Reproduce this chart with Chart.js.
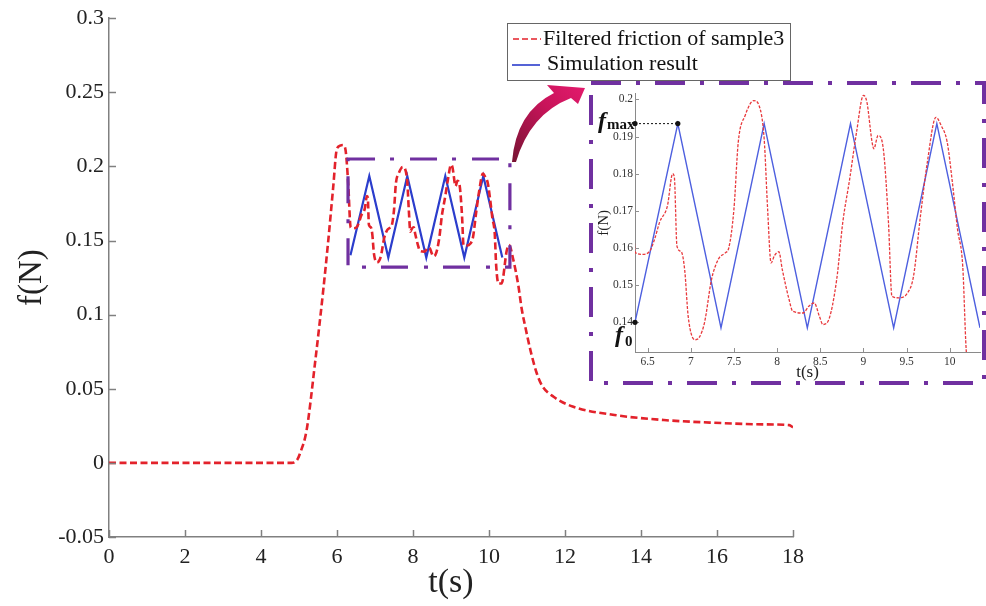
<!DOCTYPE html>
<html><head><meta charset="utf-8">
<script src="https://cdn.jsdelivr.net/npm/chart.js@4/dist/chart.umd.min.js"></script>
<style>
html,body{margin:0;padding:0;background:#fff;}
#wrap{position:relative;width:986px;height:606px;overflow:hidden;}
#main{position:absolute;left:0;top:0;}
#inset{position:absolute;left:590px;top:85px;}
</style></head><body>
<div id="wrap">
<canvas id="main" width="986" height="606"></canvas>
<canvas id="inset" width="396" height="300"></canvas>
</div>
<script>
// ---- data ----
const frictionT = [
  0, 4.8, 4.95, 5.05, 5.2, 5.42, 5.64, 5.77, 5.9, 5.99, 6.08, 6.15, 6.21, 6.3, 6.34,
  6.36, 6.44, 6.52, 6.58, 6.64, 6.73, 6.79, 6.81, 6.84, 6.89, 6.93, 6.97, 7.05, 7.1, 7.16, 7.24, 7.32, 7.4, 7.44,
  7.5, 7.55, 7.63, 7.73, 7.79, 7.85, 7.89, 7.93, 7.97, 8.02, 8.06, 8.14, 8.18, 8.3, 8.37, 8.43, 8.49, 8.53, 8.59,
  8.69, 8.76, 8.84, 8.92, 9.0, 9.04, 9.1, 9.12, 9.17, 9.23, 9.29, 9.33, 9.41, 9.51, 9.58, 9.66, 9.74, 9.84, 9.9, 9.97,
  10.03, 10.09, 10.15, 10.19, 10.25, 10.33, 10.47, 10.53, 10.64, 10.77, 10.86, 10.97, 11.1, 11.25, 11.4, 11.7, 12.2, 13.3, 14.6, 15.9, 17.2, 17.9, 18.0
];
const frictionF = [
  0, 0, 0.002, 0.008, 0.022, 0.067, 0.117, 0.15, 0.186, 0.211, 0.214, 0.2145, 0.213, 0.186, 0.164,
  0.1587, 0.1583, 0.159, 0.1623, 0.167, 0.1714, 0.18, 0.179, 0.1605, 0.159, 0.154, 0.1416, 0.1353, 0.136, 0.14, 0.1515, 0.157, 0.1587, 0.16,
  0.1705, 0.1885, 0.1957, 0.1997, 0.1984, 0.1894, 0.1705, 0.156, 0.158, 0.159, 0.1542, 0.146, 0.143, 0.1425, 0.1444, 0.1452, 0.1416, 0.1394, 0.1403,
  0.1515, 0.1668, 0.1785, 0.1912, 0.2011, 0.1993, 0.1885, 0.1867, 0.1903, 0.1867, 0.1668, 0.147, 0.1466, 0.1479, 0.1524, 0.1686, 0.1831, 0.1952, 0.193, 0.1885,
  0.1777, 0.165, 0.1551, 0.1326, 0.121, 0.121, 0.1436, 0.147, 0.137, 0.12, 0.104, 0.09, 0.075, 0.061, 0.052, 0.0446, 0.038, 0.0323, 0.0289, 0.0271, 0.026, 0.0255, 0.024
];
const simT = [6.354, 6.85, 7.35, 7.85, 8.35, 8.85, 9.35, 9.85, 10.35];
const simF = [0.14, 0.1935, 0.1385, 0.1935, 0.1385, 0.1935, 0.1385, 0.1935, 0.1385];

const seriesNames = ['Filtered friction of sample3', 'Simulation result'];
const mainXTicks = ['0','2','4','6','8','10','12','14','16','18'];
const mainYTicks = ['-0.05','0','0.05','0.1','0.15','0.2','0.25','0.3'];
const insetXTicks = ['6.5','7','7.5','8','8.5','9','9.5','10'];
const insetYTicks = ['0.14','0.15','0.16','0.17','0.18','0.19','0.2'];
const axisTitles = {x: 't(s)', y: 'f(N)'};
// zoom window (data units) marked on the main chart
const zoomWin = {t0: 6.29, t1: 10.55, f0: 0.132, f1: 0.205};
const fmaxT = 6.85, fmaxF = 0.1935, f0T = 6.354, f0F = 0.14;

const SERIF = "'Liberation Serif','Times New Roman',serif";
const RED = '#e3222b', BLUE = '#2b3dcc', PURPLE = '#7030a0';

const pts = (ts, fs) => ts.map((t, i) => ({x: t, y: fs[i]}));
const labelFor = (arr) => (v) => {
  const hit = arr.find(s => Math.abs(parseFloat(s) - v) < 1e-6);
  return hit === undefined ? '' : hit;
};

function inwardTicks(chart, len, color, width) {
  const ctx = chart.ctx, a = chart.chartArea, sx = chart.scales.x, sy = chart.scales.y;
  ctx.save();
  ctx.strokeStyle = color; ctx.lineWidth = width; ctx.setLineDash([]);
  sx.ticks.forEach(t => {
    const px = Math.round(sx.getPixelForValue(t.value)) + 0.5;
    ctx.beginPath(); ctx.moveTo(px, a.bottom); ctx.lineTo(px, a.bottom - len); ctx.stroke();
  });
  sy.ticks.forEach(t => {
    const py = Math.round(sy.getPixelForValue(t.value)) + 0.5;
    ctx.beginPath(); ctx.moveTo(a.left, py); ctx.lineTo(a.left + len, py); ctx.stroke();
  });
  ctx.restore();
}

const mainDecor = {
  id: 'mainDecor',
  afterDraw(chart) {
    const ctx = chart.ctx, sx = chart.scales.x, sy = chart.scales.y;
    inwardTicks(chart, 7, '#808080', 1.5);
    ctx.save();
    // small zoom window
    ctx.strokeStyle = PURPLE; ctx.lineWidth = 3.2; ctx.lineCap = 'butt';
    ctx.setLineDash([27, 15, 4, 16]);
    const x0 = sx.getPixelForValue(zoomWin.t0), x1 = sx.getPixelForValue(zoomWin.t1);
    const y0 = sy.getPixelForValue(zoomWin.f1), y1 = sy.getPixelForValue(zoomWin.f0);
    ctx.strokeRect(x0, y0, x1 - x0, y1 - y0);
    // big window around inset
    ctx.lineWidth = 4;
    ctx.setLineDash([30, 15, 4, 15]);
    ctx.strokeRect(591, 83, 393, 300);
    ctx.setLineDash([]);
    // arrow
    const g = ctx.createLinearGradient(513, 160, 585, 88);
    g.addColorStop(0, '#7a1434'); g.addColorStop(0.6, '#c8145a'); g.addColorStop(1, '#e21a6c');
    ctx.fillStyle = g;
    ctx.beginPath();
    ctx.moveTo(512, 162);
    ctx.quadraticCurveTo(516, 112, 554, 93);
    ctx.lineTo(547, 85);
    ctx.lineTo(585, 88);
    ctx.lineTo(578, 104);
    ctx.lineTo(571, 98);
    ctx.quadraticCurveTo(530, 114, 516, 162);
    ctx.closePath();
    ctx.fill();
    // legend
    ctx.fillStyle = '#fff';
    ctx.fillRect(507, 23, 283, 57);
    ctx.strokeStyle = '#666'; ctx.lineWidth = 1;
    ctx.strokeRect(507.5, 23.5, 283, 57);
    const ds = chart.data.datasets;
    ctx.lineWidth = 1.6;
    ctx.strokeStyle = ds[0].borderColor; ctx.setLineDash([6, 3]);
    ctx.beginPath(); ctx.moveTo(513, 39); ctx.lineTo(541, 39); ctx.stroke();
    ctx.setLineDash([]);
    ctx.strokeStyle = ds[1].borderColor;
    ctx.beginPath(); ctx.moveTo(512, 65); ctx.lineTo(540, 65); ctx.stroke();
    ctx.fillStyle = '#111'; ctx.font = '22px ' + SERIF; ctx.textBaseline = 'middle'; ctx.textAlign = 'left';
    ctx.fillText(ds[0].label, 543, 39);
    ctx.fillText(ds[1].label, 547, 64);
    ctx.restore();
  }
};

const insetDecor = {
  id: 'insetDecor',
  afterDraw(chart) {
    const ctx = chart.ctx, a = chart.chartArea, sx = chart.scales.x, sy = chart.scales.y;
    inwardTicks(chart, 4, '#909090', 1);
    ctx.save();
    const ym = sy.getPixelForValue(fmaxF), xm = sx.getPixelForValue(fmaxT);
    const y0 = sy.getPixelForValue(f0F), x0 = sx.getPixelForValue(f0T);
    ctx.strokeStyle = '#111'; ctx.lineWidth = 1; ctx.setLineDash([2, 2]);
    ctx.beginPath(); ctx.moveTo(a.left, ym); ctx.lineTo(xm, ym); ctx.stroke();
    ctx.setLineDash([]);
    ctx.fillStyle = '#111';
    [[a.left, ym], [xm, ym], [x0, y0]].forEach(([px, py]) => {
      ctx.beginPath(); ctx.arc(px, py, 2.6, 0, Math.PI * 2); ctx.fill();
    });
    ctx.textAlign = 'left'; ctx.textBaseline = 'alphabetic';
    ctx.font = 'italic bold 24px ' + SERIF;
    ctx.fillText('f', a.left - 37, ym + 4);
    ctx.font = 'bold 15px ' + SERIF;
    ctx.fillText('max', a.left - 28, ym + 5);
    ctx.font = 'italic bold 24px ' + SERIF;
    ctx.fillText('f', a.left - 20, y0 + 20);
    ctx.font = 'bold 15px ' + SERIF;
    ctx.fillText('0', a.left - 10, y0 + 24);
    ctx.restore();
  }
};

function axisCommon(color, bw) {
  return {
    grid: {display: true, drawOnChartArea: false, drawTicks: false},
    border: {display: true, color: color, width: bw}
  };
}

new Chart(document.getElementById('main'), {
  type: 'line',
  data: {
    datasets: [
      {label: seriesNames[0], data: pts(frictionT, frictionF), borderColor: RED, borderWidth: 2.6,
       borderDash: [7, 3.5], pointRadius: 0, cubicInterpolationMode: 'monotone', fill: false},
      {label: seriesNames[1], data: pts(simT, simF), borderColor: BLUE, borderWidth: 2.2,
       pointRadius: 0, tension: 0, fill: false}
    ]
  },
  options: {
    responsive: false, animation: false, devicePixelRatio: 1,
    layout: {padding: {left: 0, top: 18, right: 193, bottom: 0}},
    plugins: {legend: {display: false}, tooltip: {enabled: false}},
    scales: {
      x: Object.assign(axisCommon('#808080', 1.5), {
        type: 'linear', min: 0, max: 18,
        ticks: {stepSize: 2, autoSkip: false, maxRotation: 0, padding: 7, color: '#222',
                font: {family: SERIF, size: 22}, callback: labelFor(mainXTicks)},
        title: {display: true, text: axisTitles.x, color: '#222', font: {family: SERIF, size: 34},
                padding: {top: 0, bottom: 3}},
        afterFit: s => { s.height = 69; }
      }),
      y: Object.assign(axisCommon('#808080', 1.5), {
        type: 'linear', min: -0.05, max: 0.3,
        ticks: {stepSize: 0.05, autoSkip: false, padding: 5, color: '#222',
                font: {family: SERIF, size: 22}, callback: labelFor(mainYTicks)},
        title: {display: true, text: axisTitles.y, color: '#222', font: {family: SERIF, size: 33},
                padding: {top: 13, bottom: 0}},
        afterFit: s => { s.width = 109; }
      })
    }
  },
  plugins: [mainDecor]
});

new Chart(document.getElementById('inset'), {
  type: 'line',
  data: {
    datasets: [
      {label: seriesNames[0], data: pts(frictionT, frictionF), borderColor: '#e8393c', borderWidth: 1.3,
       borderDash: [3, 1.5], pointRadius: 0, cubicInterpolationMode: 'monotone', fill: false},
      {label: seriesNames[1], data: pts(simT, simF), borderColor: '#4d5fdf', borderWidth: 1.4,
       pointRadius: 0, tension: 0, fill: false}
    ]
  },
  options: {
    responsive: false, animation: false, devicePixelRatio: 1,
    layout: {padding: {left: 0, top: 7, right: 6, bottom: 0}},
    plugins: {legend: {display: false}, tooltip: {enabled: false}},
    scales: {
      x: Object.assign(axisCommon('#8a8a8a', 1), {
        type: 'linear', min: 6.354, max: 10.35,
        ticks: {stepSize: 0.5, includeBounds: false, autoSkip: false, maxRotation: 0, padding: 3, color: '#333',
                font: {family: SERIF, size: 11.5}, callback: labelFor(insetXTicks)},
        title: {display: true, text: axisTitles.x, color: '#222', font: {family: SERIF, size: 17},
                padding: {top: 0, bottom: 2}},
        afterFit: s => { s.height = 33; }
      }),
      y: Object.assign(axisCommon('#8a8a8a', 1), {
        type: 'linear', min: 0.132, max: 0.2015,
        ticks: {stepSize: 0.01, includeBounds: false, autoSkip: false, padding: 2, color: '#333',
                font: {family: SERIF, size: 11.5}, callback: labelFor(insetYTicks)},
        title: {display: true, text: axisTitles.y, color: '#222', font: {family: SERIF, size: 15},
                padding: {top: 5, bottom: 0}},
        afterFit: s => { s.width = 45; }
      })
    }
  },
  plugins: [insetDecor]
});
</script>
</body></html>
